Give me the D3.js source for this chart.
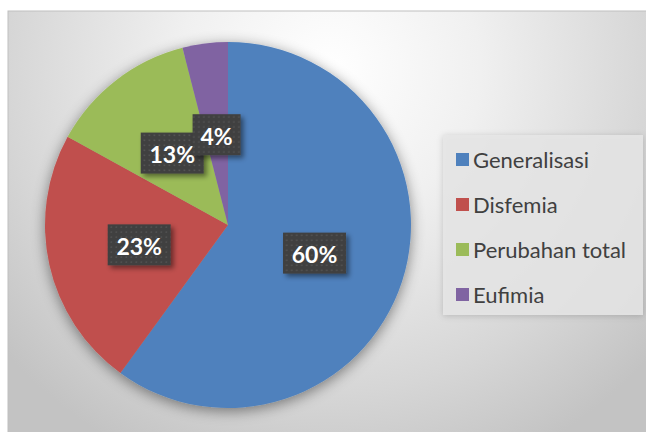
<!DOCTYPE html>
<html lang="id">
<head>
    <meta charset="UTF-8">
    <title>Pie</title>
    <style>
        body{
            margin:0;
            background:#fff;
        }
        svg{
            display:block;
        }
        .slice-label{
            fill:#fff;
            font-family:Lato, "Open Sans", sans-serif;
            font-weight:bold;
            font-size:23px;
            text-anchor:middle;
            dominant-baseline:central;
        }
        .legend-text{
            fill:#404040;
            font-family:Lato, "Open Sans", sans-serif;
            font-size:22px;
            dominant-baseline:central;
        }
    </style>
    <script type="text/javascript" src="https://cdn.jsdelivr.net/npm/d3@7"></script>
</head>
<body>
<div class="container"></div>
<script>
    // data
    var categories = ["Generalisasi","Disfemia","Perubahan total","Eufimia"];
    var values = [60,23,13,4];
    var labels = ["60%","23%","13%","4%"];
    var colors = ["#4f81bd","#c0504d","#9bbb59","#8064a2"];

    var width = 646;
    var height = 432;
    var frame = {left:8,top:11};
    var center = {x:228,y:225};
    var radius = 183;

    var svg = d3.select(".container")
            .append("svg")
            .attr("width",width)
            .attr("height",height);

    var defs = svg.append("defs");

    // background gradient
    var grad = defs.append("radialGradient")
            .attr("id","bg")
            .attr("gradientUnits","userSpaceOnUse")
            .attr("cx",330).attr("cy",70).attr("r",430);
    grad.append("stop").attr("offset","0%").attr("stop-color","#ffffff");
    grad.append("stop").attr("offset","35%").attr("stop-color","#f0f0f0");
    grad.append("stop").attr("offset","75%").attr("stop-color","#d6d6d6");
    grad.append("stop").attr("offset","100%").attr("stop-color","#c3c3c3");

    // shadows
    var pieShadow = defs.append("filter")
            .attr("id","pieShadow")
            .attr("x","-20%").attr("y","-20%").attr("width","140%").attr("height","140%");
    pieShadow.append("feDropShadow")
            .attr("dx",0).attr("dy",3)
            .attr("stdDeviation",7)
            .attr("flood-color","#000")
            .attr("flood-opacity",0.45);

    var boxShadow = defs.append("filter")
            .attr("id","boxShadow")
            .attr("x","-30%").attr("y","-30%").attr("width","160%").attr("height","160%");
    boxShadow.append("feDropShadow")
            .attr("dx",3).attr("dy",3)
            .attr("stdDeviation",2.5)
            .attr("flood-color","#000")
            .attr("flood-opacity",0.45);

    var legShadow = defs.append("filter")
            .attr("id","legShadow")
            .attr("x","-10%").attr("y","-10%").attr("width","120%").attr("height","120%");
    legShadow.append("feDropShadow")
            .attr("dx",0).attr("dy",1)
            .attr("stdDeviation",3)
            .attr("flood-color","#000")
            .attr("flood-opacity",0.2);

    // dotted fill of the label boxes
    var pattern = defs.append("pattern")
            .attr("id","dots")
            .attr("patternUnits","userSpaceOnUse")
            .attr("width",5).attr("height",5);
    pattern.append("rect").attr("width",5).attr("height",5).attr("fill","#404040");
    pattern.append("rect").attr("x",1.5).attr("y",1.5).attr("width",1.5).attr("height",1.5).attr("fill","#555555");

    // chart area
    svg.append("rect")
            .attr("x",frame.left)
            .attr("y",frame.top)
            .attr("width",width - frame.left + 2)
            .attr("height",height - frame.top + 2)
            .attr("fill","url(#bg)")
            .attr("stroke","#bfbfbf")
            .attr("stroke-width",1);

    // pie
    var pie = d3.pie().sort(null).value(function(d){return d;});
    var arcs = pie(values);
    var arc = d3.arc().innerRadius(0).outerRadius(radius);
    var labelArc = d3.arc().innerRadius(91).outerRadius(91);

    var g = svg.append("g")
            .attr("transform","translate(" + center.x + "," + center.y + ")");

    g.append("g")
            .attr("filter","url(#pieShadow)")
            .selectAll("path")
            .data(arcs)
            .enter()
            .append("path")
            .attr("d",arc)
            .attr("fill",function(d,i){return colors[i];});

    // labels
    var lab = g.selectAll(".lab")
            .data(arcs)
            .enter()
            .append("g")
            .attr("class","lab")
            .attr("transform",function(d){
                var c = labelArc.centroid(d);
                return "translate(" + c[0] + "," + c[1] + ")";
            });

    lab.append("rect")
            .attr("x",function(d,i){return -(labels[i].length * 15 + 18) / 2;})
            .attr("y",-20.5)
            .attr("width",function(d,i){return labels[i].length * 15 + 18;})
            .attr("height",41)
            .attr("fill","url(#dots)")
            .attr("filter","url(#boxShadow)");

    lab.append("text")
            .attr("class","slice-label")
            .attr("y",1)
            .text(function(d,i){return labels[i];});

    // legend
    var legend = svg.append("g");
    legend.append("rect")
            .attr("x",443)
            .attr("y",135)
            .attr("width",200)
            .attr("height",180)
            .attr("fill","#e6e6e6")
            .attr("fill-opacity",0.85)
            .attr("filter","url(#legShadow)");

    var yLegend = d3.scalePoint()
            .domain(categories)
            .range([159,294]);

    var items = legend.selectAll(".item")
            .data(categories)
            .enter()
            .append("g")
            .attr("class","item")
            .attr("transform",function(d){return "translate(456," + yLegend(d) + ")";});

    items.append("rect")
            .attr("x",0)
            .attr("y",-6)
            .attr("width",13)
            .attr("height",13)
            .attr("fill",function(d,i){return colors[i];});

    items.append("text")
            .attr("class","legend-text")
            .attr("x",17)
            .attr("y",0)
            .text(function(d){return d;});
</script>
</body>
</html>
